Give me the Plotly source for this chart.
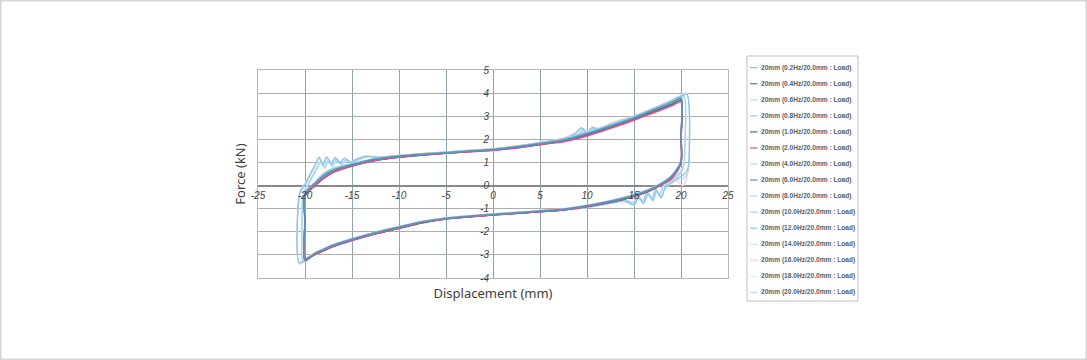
import plotly.graph_objects as go

# ---------------- data ----------------
SERIES_NAMES = [
    "20mm (0.2Hz/20.0mm : Load)", "20mm (0.4Hz/20.0mm : Load)", "20mm (0.6Hz/20.0mm : Load)",
    "20mm (0.8Hz/20.0mm : Load)", "20mm (1.0Hz/20.0mm : Load)", "20mm (2.0Hz/20.0mm : Load)",
    "20mm (4.0Hz/20.0mm : Load)", "20mm (6.0Hz/20.0mm : Load)", "20mm (8.0Hz/20.0mm : Load)",
    "20mm (10.0Hz/20.0mm : Load)", "20mm (12.0Hz/20.0mm : Load)", "20mm (14.0Hz/20.0mm : Load)",
    "20mm (16.0Hz/20.0mm : Load)", "20mm (18.0Hz/20.0mm : Load)", "20mm (20.0Hz/20.0mm : Load)",
]
SERIES_COLORS = [
    "#a9b3bb", "#6b7884", "#d0d6dc", "#8fcbea", "#4d6781", "#d4587f",
    "#cdd6de", "#5b93bd", "#a6d8ef",
    "#a3d5ee", "#8cc6e6", "#c6e6f5", "#f6cddb", "#dceff8", "#b8def0",
]

X_TICKS = [-25, -20, -15, -10, -5, 0, 5, 10, 15, 20, 25]
Y_TICKS = [-4, -3, -2, -1, 0, 1, 2, 3, 4, 5]

DISP_SMOOTH = [-20, -20, -20, -19, -18, -17, -15, -12.5, -10, -7.5, -5, -2.5, 0,
               2.5, 5, 7.5, 10, 12.5, 15, 17.5, 19, 20, 20, 20,
               19, 18, 17, 15, 12.5, 10, 7.5, 5, 2.5, 0,
               -2.5, -5, -7.5, -10, -12.5, -15, -17, -18, -19, -20]

F_02 = [-3.2, -1.55, -0.4, 0.02, 0.38, 0.62, 0.88, 1.12, 1.25, 1.34, 1.41, 1.48, 1.55, 1.66, 1.8, 1.94, 2.2, 2.54, 2.9, 3.3, 3.55, 3.72, 2.1, 1.0, 0.36, 0.08, -0.14, -0.44, -0.69, -0.89, -1.04, -1.12, -1.19, -1.26, -1.34, -1.43, -1.59, -1.82, -2.06, -2.34, -2.6, -2.78, -2.97, -3.2]
F_04 = [-3.22, -1.6, -0.42, 0.0, 0.35, 0.6, 0.86, 1.1, 1.23, 1.32, 1.4, 1.47, 1.54, 1.65, 1.79, 1.93, 2.18, 2.5, 2.86, 3.26, 3.5, 3.68, 2.0, 0.98, 0.33, 0.07, -0.16, -0.46, -0.71, -0.91, -1.05, -1.13, -1.2, -1.27, -1.35, -1.44, -1.61, -1.85, -2.09, -2.37, -2.63, -2.81, -2.99, -3.22]
F_06 = [-3.18, -1.5, -0.38, 0.05, 0.42, 0.66, 0.9, 1.14, 1.26, 1.36, 1.43, 1.5, 1.57, 1.68, 1.83, 1.98, 2.24, 2.57, 2.94, 3.36, 3.62, 3.8, 2.2, 1.05, 0.38, 0.1, -0.12, -0.41, -0.67, -0.87, -1.02, -1.1, -1.17, -1.24, -1.32, -1.41, -1.57, -1.8, -2.04, -2.31, -2.57, -2.75, -2.94, -3.18]
F_08 = [-3.28, -1.45, -0.32, 0.1, 0.5, 0.72, 0.94, 1.17, 1.29, 1.37, 1.44, 1.51, 1.58, 1.7, 1.85, 2.02, 2.3, 2.62, 2.98, 3.4, 3.66, 3.84, 2.3, 1.1, 0.42, 0.12, -0.1, -0.4, -0.66, -0.86, -1.01, -1.09, -1.16, -1.23, -1.31, -1.4, -1.55, -1.78, -2.02, -2.3, -2.56, -2.74, -2.93, -3.28]
F_10 = [-3.15, -1.7, -0.45, -0.05, 0.3, 0.56, 0.84, 1.08, 1.22, 1.31, 1.39, 1.46, 1.52, 1.62, 1.76, 1.92, 2.2, 2.52, 2.88, 3.28, 3.52, 3.7, 2.05, 0.95, 0.32, 0.05, -0.18, -0.48, -0.73, -0.92, -1.06, -1.14, -1.21, -1.28, -1.36, -1.45, -1.62, -1.86, -2.1, -2.38, -2.64, -2.82, -3.0, -3.15]
F_20 = [-3.2, -1.6, -0.45, -0.02, 0.32, 0.58, 0.85, 1.1, 1.24, 1.33, 1.4, 1.47, 1.53, 1.64, 1.78, 1.9, 2.15, 2.48, 2.83, 3.22, 3.45, 3.62, 2.0, 1.0, 0.3, 0.06, -0.15, -0.45, -0.7, -0.9, -1.05, -1.13, -1.2, -1.27, -1.35, -1.44, -1.6, -1.84, -2.08, -2.36, -2.62, -2.8, -2.98, -3.2]
F_40 = [-3.22, -1.55, -0.36, 0.06, 0.45, 0.68, 0.92, 1.15, 1.28, 1.36, 1.43, 1.5, 1.57, 1.69, 1.84, 2.0, 2.27, 2.6, 2.96, 3.38, 3.64, 3.82, 2.25, 1.08, 0.4, 0.11, -0.11, -0.41, -0.67, -0.87, -1.02, -1.1, -1.17, -1.24, -1.32, -1.41, -1.56, -1.79, -2.03, -2.31, -2.57, -2.75, -2.94, -3.22]
F_60 = [-3.25, -1.5, -0.35, 0.08, 0.44, 0.67, 0.91, 1.15, 1.27, 1.35, 1.42, 1.49, 1.56, 1.68, 1.82, 1.97, 2.25, 2.58, 2.93, 3.35, 3.6, 3.78, 2.1, 1.05, 0.4, 0.1, -0.12, -0.42, -0.68, -0.87, -1.02, -1.1, -1.18, -1.25, -1.33, -1.42, -1.57, -1.8, -2.04, -2.32, -2.58, -2.76, -2.95, -3.25]
F_80 = [-3.3, -1.4, -0.3, 0.12, 0.55, 0.76, 0.96, 1.18, 1.3, 1.38, 1.45, 1.52, 1.59, 1.71, 1.86, 2.04, 2.33, 2.65, 3.0, 3.42, 3.68, 3.86, 2.35, 1.12, 0.45, 0.14, -0.08, -0.38, -0.64, -0.85, -1.0, -1.08, -1.15, -1.22, -1.3, -1.39, -1.54, -1.77, -2.01, -2.29, -2.55, -2.73, -2.92, -3.3]

DISP_NOISY_A = [-20.2, -20.3, -20.2, -19.7, -19.2, -18.7, -18.3, -17.9, -17.5, -17.1, -16.6, -16.1, -15.6,
                -15.0, -14.2, -13.2, -12.0, -10.0, -7.5, -5.0, -2.5, 0.0,
                2.5, 5.0, 7.5, 9.0, 9.6, 10.2, 10.8, 11.5, 12.5,
                15.0, 17.5, 19.5, 20.3, 20.4, 20.3, 19.9,
                19.3, 18.6, 18.1, 17.7, 17.3, 16.9, 16.4, 15.9, 15.4, 14.9,
                14.0, 12.5, 10.0, 7.5, 5.0, 2.5, 0.0,
                -2.5, -5.0, -7.5, -10.0, -12.5, -15.0, -17.0, -18.5, -19.5, -20.2]
DISP_NOISY_B = [-20.6, -20.8, -20.5, -19.9, -19.4, -18.9, -18.5, -18.1, -17.7, -17.2, -16.8, -16.3, -15.8,
                -15.2, -14.4, -13.5, -12.2, -10.0, -7.5, -5.0, -2.5, 0.0,
                2.5, 5.0, 7.5, 8.8, 9.4, 10.0, 10.6, 11.3, 12.5,
                15.0, 17.5, 19.6, 20.6, 20.9, 20.7, 20.2,
                19.5, 18.8, 18.3, 17.9, 17.4, 17.0, 16.5, 16.0, 15.5, 15.0,
                14.0, 12.5, 10.0, 7.5, 5.0, 2.5, 0.0,
                -2.5, -5.0, -7.5, -10.0, -12.5, -15.0, -17.0, -18.5, -19.6, -20.6]

F_100 = [-3.3, -1.5, -0.4, 0.05, 0.4, 0.8, 1.05, 0.8, 1.12, 0.86, 1.15, 0.92, 1.12, 0.98, 1.15, 1.26, 1.2, 1.27, 1.36, 1.43, 1.5, 1.57, 1.68, 1.82, 1.98, 2.2, 2.4, 2.25, 2.45, 2.34, 2.6, 2.92, 3.32, 3.72, 3.88, 1.6, 0.9, 0.55, 0.35, 0.12, -0.05, -0.42, -0.18, -0.55, -0.3, -0.68, -0.45, -0.75, -0.62, -0.74, -0.92, -1.05, -1.12, -1.19, -1.26, -1.34, -1.43, -1.58, -1.82, -2.07, -2.34, -2.62, -2.86, -3.05, -3.3]
F_120 = [-3.35, -1.4, -0.3, 0.1, 0.5, 0.9, 1.2, 0.88, 1.22, 0.92, 1.2, 0.96, 1.18, 1.0, 1.16, 1.26, 1.22, 1.3, 1.38, 1.45, 1.52, 1.59, 1.7, 1.85, 2.02, 2.25, 2.48, 2.3, 2.5, 2.4, 2.65, 2.98, 3.38, 3.78, 3.95, 1.8, 0.7, 0.45, 0.28, 0.08, -0.1, -0.5, -0.22, -0.62, -0.36, -0.76, -0.5, -0.82, -0.66, -0.76, -0.94, -1.06, -1.13, -1.2, -1.27, -1.35, -1.44, -1.59, -1.83, -2.08, -2.35, -2.64, -2.9, -3.1, -3.35]
F_140 = [-3.28, -1.6, -0.45, 0.0, 0.35, 0.75, 1.0, 0.74, 1.06, 0.8, 1.1, 0.88, 1.1, 0.92, 1.12, 1.24, 1.19, 1.26, 1.35, 1.42, 1.49, 1.56, 1.67, 1.8, 1.96, 2.16, 2.36, 2.2, 2.4, 2.3, 2.56, 2.88, 3.28, 3.68, 3.84, 1.4, 0.85, 0.5, 0.32, 0.1, -0.08, -0.4, -0.16, -0.52, -0.28, -0.64, -0.42, -0.72, -0.6, -0.72, -0.91, -1.04, -1.11, -1.18, -1.25, -1.33, -1.42, -1.57, -1.8, -2.05, -2.32, -2.6, -2.84, -3.03, -3.28]
F_160 = [-3.4, -1.3, -0.2, 0.15, 0.55, 0.95, 1.25, 0.92, 1.26, 0.96, 1.22, 1.0, 1.2, 1.02, 1.18, 1.28, 1.24, 1.31, 1.39, 1.46, 1.53, 1.6, 1.72, 1.87, 2.05, 2.3, 2.52, 2.34, 2.55, 2.45, 2.7, 3.02, 3.42, 3.82, 4.0, 2.0, 0.5, 0.0, 0.2, 0.05, -0.15, -0.55, -0.26, -0.68, -0.4, -0.8, -0.55, -0.86, -0.7, -0.78, -0.95, -1.07, -1.14, -1.21, -1.28, -1.36, -1.45, -1.6, -1.84, -2.1, -2.38, -2.67, -2.93, -3.15, -3.4]
F_180 = [-3.25, -1.55, -0.38, 0.08, 0.45, 0.85, 1.12, 0.84, 1.15, 0.88, 1.16, 0.94, 1.14, 0.97, 1.15, 1.27, 1.21, 1.28, 1.37, 1.44, 1.51, 1.58, 1.69, 1.83, 2.0, 2.22, 2.44, 2.27, 2.48, 2.36, 2.62, 2.95, 3.35, 3.75, 3.9, 1.7, 0.95, 0.6, 0.38, 0.15, -0.02, -0.44, -0.14, -0.56, -0.28, -0.7, -0.42, -0.76, -0.6, -0.73, -0.92, -1.05, -1.12, -1.19, -1.26, -1.34, -1.43, -1.58, -1.82, -2.07, -2.34, -2.62, -2.87, -3.06, -3.25]
F_200 = [-3.32, -1.45, -0.25, 0.12, 0.52, 0.92, 1.22, 0.9, 1.24, 0.94, 1.22, 0.99, 1.19, 1.0, 1.17, 1.27, 1.23, 1.3, 1.38, 1.45, 1.52, 1.59, 1.71, 1.86, 2.03, 2.28, 2.5, 2.32, 2.52, 2.42, 2.68, 3.0, 3.4, 3.8, 3.97, 1.9, 0.6, 0.3, 0.25, 0.06, -0.12, -0.52, -0.24, -0.66, -0.38, -0.78, -0.52, -0.84, -0.68, -0.77, -0.95, -1.06, -1.13, -1.2, -1.27, -1.35, -1.44, -1.59, -1.83, -2.09, -2.36, -2.65, -2.91, -3.12, -3.32]

SERIES_DATA = [
    (DISP_SMOOTH, F_02), (DISP_SMOOTH, F_04), (DISP_SMOOTH, F_06), (DISP_SMOOTH, F_08),
    (DISP_SMOOTH, F_10), (DISP_SMOOTH, F_20), (DISP_SMOOTH, F_40), (DISP_SMOOTH, F_60),
    (DISP_SMOOTH, F_80),
    (DISP_NOISY_A, F_100), (DISP_NOISY_B, F_120), (DISP_NOISY_A, F_140),
    (DISP_NOISY_B, F_160), (DISP_NOISY_A, F_180), (DISP_NOISY_B, F_200),
]
# drawing order (back to front)
DRAW_ORDER = [12, 13, 14, 11, 2, 6, 9, 10, 8, 3, 0, 1, 4, 5, 7]

# ---------------- layout geometry (pixels) ----------------
W, H = 1087, 360
PL, PR, PT, PB = 258, 728, 70, 278   # plot area edges


def px_x(px):
    return (px - PL) / (PR - PL)


def px_y(py):
    return (PB - py) / (PB - PT)


fig = go.Figure()

for i in DRAW_ORDER:
    dx, fy = SERIES_DATA[i]
    width = {5: 1.7, 7: 1.5, 4: 1.1}.get(i, 1.3)
    fig.add_trace(go.Scatter(
        x=dx, y=fy, mode="lines", name=SERIES_NAMES[i],
        line=dict(color=SERIES_COLORS[i], width=width, shape="spline", smoothing=0.8),
        showlegend=False, hoverinfo="skip",
    ))

# invisible trace on the overlay axes (tick labels at the zero lines)
fig.add_trace(go.Scatter(x=[None], y=[None], xaxis="x2", yaxis="y2",
                         showlegend=False, hoverinfo="skip"))

tick_font = dict(family="Liberation Sans, Arial, sans-serif", size=10, color="#3f3f3f", style="italic")
title_font = dict(family="Noto Sans, Open Sans, sans-serif", size=13, color="#404040")

fig.update_layout(
    width=W, height=H, autosize=False,
    margin=dict(l=PL, r=W - PR, t=PT, b=H - PB, pad=0),
    paper_bgcolor="white", plot_bgcolor="white",
    showlegend=False,
    xaxis=dict(
        range=[-25, 25], tickvals=X_TICKS, showticklabels=False, ticks="",
        showgrid=True, gridcolor="#8ea3b3", gridwidth=1.2,
        zeroline=False,
        showline=True, mirror=True, linecolor="#b8b8b8", linewidth=1,
        title=dict(text="Displacement (mm)", font=title_font, standoff=10),
        fixedrange=True,
    ),
    yaxis=dict(
        range=[-4, 5], tickvals=Y_TICKS, showticklabels=False, ticks="",
        showgrid=True, gridcolor="#adadad", gridwidth=1,
        zeroline=True, zerolinecolor="#8a8a8a", zerolinewidth=1.5,
        showline=True, mirror=True, linecolor="#b8b8b8", linewidth=1,
        title=dict(text="Force (kN)", font=title_font, standoff=8),
        fixedrange=True,
    ),
    xaxis2=dict(
        overlaying="x", anchor="free", position=px_y(185.6), side="bottom",
        range=[-25, 25], tickvals=X_TICKS, ticktext=[str(v) for v in X_TICKS],
        showgrid=False, zeroline=False, showline=False, ticks="",
        tickfont=tick_font, ticklabelstandoff=2, fixedrange=True,
    ),
    yaxis2=dict(
        overlaying="y", anchor="free", position=0.5, side="left",
        range=[-4, 5], tickvals=Y_TICKS, ticktext=[str(v) for v in Y_TICKS],
        showgrid=False, zeroline=False, showline=False, ticks="",
        tickfont=tick_font, ticklabelstandoff=4, fixedrange=True,
    ),
)

# outer frame of the picture
fig.add_shape(type="rect", xref="paper", yref="paper", layer="below",
              x0=px_x(0.75), x1=px_x(W - 0.75), y0=px_y(H - 0.75), y1=px_y(0.75),
              line=dict(color="#d6d6d6", width=1.5))

# legend box, built from the series names / colours
LEG_L, LEG_R, LEG_T, LEG_B = 747, 858, 56, 301
fig.add_shape(type="rect", xref="paper", yref="paper",
              x0=px_x(LEG_L), x1=px_x(LEG_R), y0=px_y(LEG_B), y1=px_y(LEG_T),
              line=dict(color="#bdbdbd", width=1), fillcolor="white")
for k, (name, col) in enumerate(zip(SERIES_NAMES, SERIES_COLORS)):
    yy = 67.7 + 16.05 * k
    fig.add_shape(type="line", xref="paper", yref="paper",
                  x0=px_x(750), x1=px_x(757.5), y0=px_y(yy), y1=px_y(yy),
                  line=dict(color=col, width=1.2))
    fig.add_annotation(xref="paper", yref="paper", x=px_x(759), y=px_y(yy),
                       xanchor="left", yanchor="middle", showarrow=False,
                       text=name, font=dict(family="Liberation Sans, Arial, sans-serif",
                                            size=6.6, color="#56606a", weight="bold"))

fig.write_html("out.html", config={"displayModeBar": False},
               post_script="document.body.style.margin='0';")
